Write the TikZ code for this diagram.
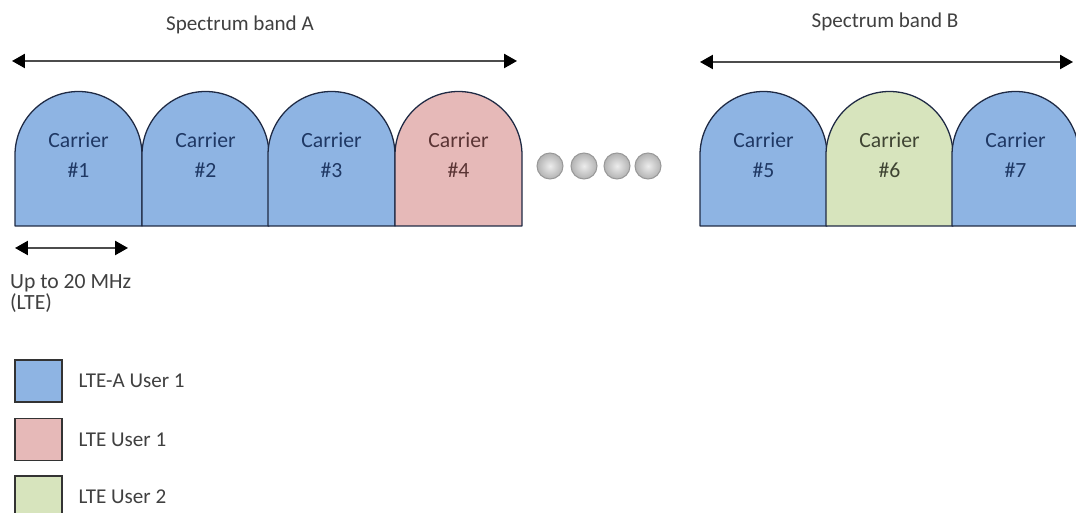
\documentclass[tikz,border=0pt]{standalone}
\usepackage{fontspec}
\setmainfont{Carlito}
\usetikzlibrary{arrows.meta,positioning}
\definecolor{ltea}{HTML}{8EB4E3}
\definecolor{lteone}{HTML}{E6B9B8}
\definecolor{ltetwo}{HTML}{D7E4BD}
\definecolor{edge}{HTML}{1F2A44}
\definecolor{txtblue}{HTML}{1F3864}
\definecolor{txtred}{HTML}{5A3434}
\definecolor{txtgreen}{HTML}{3F4433}

\tikzset{
    carrier/.style={draw=edge, line width=1.1pt, line join=round},
    txt/.style={font=\fontsize{18}{21}\selectfont, text=black!75},
    span/.style={{Triangle[length=11pt,width=12pt,black]}-{Triangle[length=11pt,width=12pt,black]}, line width=1.6pt, draw=black!70},
    dot/.style={circle, inner color=gray!15, outer color=gray!60, draw=gray!80, line width=0.9pt, minimum size=0.78cm, inner sep=0pt},
    keybox/.style={draw=black!80, line width=1.2pt, minimum width=1.41cm, minimum height=1.26cm, inner sep=0pt}
}

\begin{document}
\begin{tikzpicture}[x=0.03cm, y=0.03cm]
    \useasboundingbox (0,0) rectangle (1076,513);
    %the carriers
    \foreach \n/\x/\col/\tc in {1/15/ltea/txtblue, 2/142/ltea/txtblue, 3/268/ltea/txtblue, 4/395/lteone/txtred,
                                5/700/ltea/txtblue, 6/826/ltetwo/txtgreen, 7/952/ltea/txtblue}{
        \filldraw[carrier, fill=\col] (\x,287) -- (\x,358) arc[start angle=180, end angle=0, radius=63.5] -- (\x+127,287) -- cycle;
        \node[txt, text=\tc, align=center, font=\fontsize{18.5}{25}\selectfont] (carrier\n) at (\x+63.5,358) {Carrier\\\#\n};
    }
    %the dots between the bands
    \foreach \i/\x in {1/550, 2/584, 3/617, 4/648}
        \node[dot] (dot\i) at (\x,347) {};
    %the bands
    \coordinate (bandAleft) at (12,452);
    \coordinate (bandAright) at (517,452);
    \coordinate (bandBleft) at (700,451);
    \coordinate (bandBright) at (1073,451);
    \draw[span] (bandAleft) -- (bandAright);
    \draw[span] (bandBleft) -- (bandBright);
    \node[txt] (bandA) at (240,488) {Spectrum band A};
    \node[txt] (bandB) at (885,491) {Spectrum band B};
    %one LTE carrier width
    \coordinate (widthleft) at (15,265);
    \coordinate (widthright) at (128,265);
    \draw[span] (widthleft) -- (widthright);
    \node[txt, align=left, anchor=north west, font=\fontsize{18.5}{18}\selectfont] (width) at (6,243) {Up to 20 MHz\\(LTE)};
    %legends
    \node[keybox, fill=ltea] (keyA) at (38.5,132) {};
    \node[keybox, fill=lteone, below=0.45cm of keyA] (keyB) {};
    \node[keybox, fill=ltetwo, below=0.42cm of keyB] (keyC) {};
    \node[txt, right=0.35cm of keyA] (keyAtext) {LTE-A User 1};
    \node[txt, right=0.35cm of keyB] (keyBtext) {LTE User 1};
    \node[txt, right=0.35cm of keyC] (keyCtext) {LTE User 2};
\end{tikzpicture}
\end{document}
